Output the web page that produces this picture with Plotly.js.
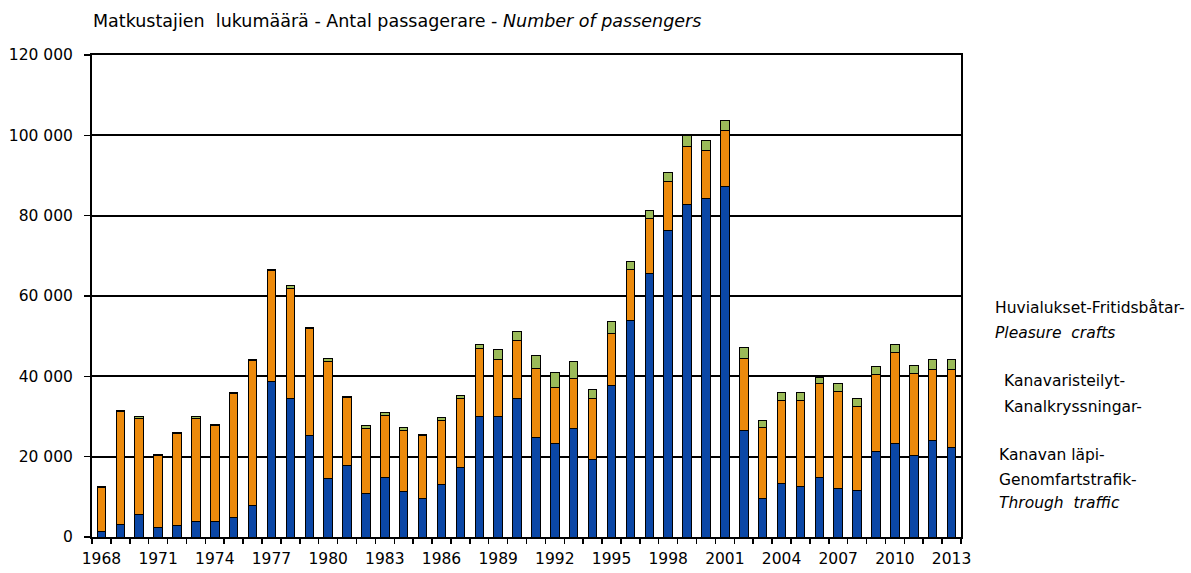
<!DOCTYPE html>
<html>
<head>
<meta charset="utf-8">
<script src="https://cdn.plot.ly/plotly-3.0.1.min.js"></script>
<style>html,body{margin:0;padding:0;background:#fff;}#chart{width:1191px;height:573px;}</style>
</head>
<body>
<div id="chart"></div>
<script>
const years = [1968,1969,1970,1971,1972,1973,1974,1975,1976,1977,1978,1979,1980,1981,1982,1983,1984,1985,1986,1987,1988,1989,1990,1991,1992,1993,1994,1995,1996,1997,1998,1999,2000,2001,2002,2003,2004,2005,2006,2007,2008,2009,2010,2011,2012,2013];
const throughTraffic = [1400,3200,5700,2400,2900,3900,3900,4900,7800,38600,34500,25200,14500,17800,10900,14900,11400,9700,13000,17300,29900,29900,34500,24700,23200,26900,19200,37800,54000,65600,76200,82800,84200,87300,26400,9700,13200,12600,14800,12200,11700,21400,23300,20400,24100,22300];
const canalCruises = [10900,28100,23900,17900,22800,25700,23800,30800,36100,27800,27300,26700,29100,16900,16100,15400,15100,15500,15900,17200,17100,14200,14400,17200,14000,12500,15200,12800,12500,13600,12200,14400,12100,13900,18000,17600,20700,21300,23400,24100,20700,19000,22600,20400,17600,19400];
const pleasureCrafts = [300,300,300,300,300,300,300,300,300,300,900,300,900,300,800,800,800,300,800,800,900,2500,2300,3200,3800,4300,2300,3000,2200,2200,2400,2800,2400,2600,2700,1600,2100,2100,1600,2000,2100,2100,2000,2000,2400,2400];
const seriesNames = ['Kanavan läpi-Genomfartstrafik-Through traffic','Kanavaristeilyt-Kanalkryssningar-','Huvialukset-Fritidsbåtar-Pleasure crafts'];
const titleText = 'Matkustajien  lukumäärä - Antal passagerare - <i>Number of passengers</i>';
const legendLines = [
  {t:'Huvialukset-Fritidsbåtar-', px:993, py:308},
  {t:'<i>Pleasure  crafts</i>', px:993, py:333},
  {t:'Kanavaristeilyt-', px:1002, py:381},
  {t:'Kanalkryssningar-', px:1002, py:407},
  {t:'Kanavan läpi-', px:997, py:455},
  {t:'Genomfartstrafik-', px:997, py:480},
  {t:'<i>Through  traffic</i>', px:997, py:503}
];

const cats = years.map(String);
const tickText = years.map(y => ((y - years[0]) % 3 === 0) ? String(y) : '');
const FONT = '"DejaVu Sans", "Liberation Sans", Arial, sans-serif';
const line = {color:'#000', width:1};
const colors = ['#0B47A6','#EC8A0C','#9BBB59'];
const vals = [throughTraffic, canalCruises, pleasureCrafts];
const traces = vals.map((v,i) => ({
  type:'bar', x:cats, y:v, name:seriesNames[i],
  marker:{color:colors[i], line:line}, showlegend:false
}));

const L=92, R=961, T=55, B=537;
const W=1191, H=573;
const ann = legendLines.map(o => ({
  text:o.t, xref:'paper', yref:'paper',
  x:(o.px-L)/(R-L), y:(B-o.py)/(B-T),
  xanchor:'left', yanchor:'middle', showarrow:false,
  font:{family:FONT, size:15.5, color:'#000'}
}));

const layout = {
  width:W, height:H,
  margin:{l:L, r:W-R, t:T, b:H-B, pad:0},
  paper_bgcolor:'#fff', plot_bgcolor:'#fff',
  barmode:'stack', bargap:0.55,
  separators:', ',
  font:{family:FONT, size:16, color:'#000'},
  title:{text:titleText, xref:'container', yref:'container', x:93/W, xanchor:'left', y:1-21/H, yanchor:'middle', font:{family:FONT, size:17.5, color:'#000'}},
  xaxis:{type:'category', tickvals:cats, ticktext:tickText, tickson:'boundaries',
    ticks:'outside', ticklen:5, tickcolor:'#000', tickwidth:1.5, ticklabelstandoff:6,
    showline:true, linecolor:'#000', linewidth:2, mirror:true, showgrid:false,
    tickangle:0, tickfont:{family:FONT, size:15.5, color:'#000'}, automargin:false},
  yaxis:{range:[0,120000], dtick:20000, tickformat:',d',
    ticks:'outside', ticklen:6, tickcolor:'#000', tickwidth:1.5, ticklabelstandoff:8,
    showline:true, linecolor:'#000', linewidth:2, mirror:true,
    showgrid:true, gridcolor:'#000', gridwidth:2, zeroline:false,
    tickfont:{family:FONT, size:15.5, color:'#000'}, automargin:false},
  annotations:ann
};
Plotly.newPlot('chart', traces, layout, {displayModeBar:false, staticPlot:true});
</script>
</body>
</html>
